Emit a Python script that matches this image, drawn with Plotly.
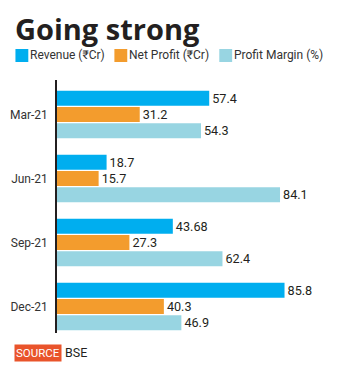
import plotly.graph_objects as go

quarters = ["Mar-21", "Jun-21", "Sep-21", "Dec-21"]
revenue = [57.4, 18.7, 43.68, 85.8]
net_profit = [31.2, 15.7, 27.3, 40.3]
profit_margin = [54.3, 84.1, 62.4, 46.9]
revenue_labels = ["57.4", "18.7", "43.68", "85.8"]
profit_labels = ["31.2", "15.7", "27.3", "40.3"]
margin_labels = ["54.3", "84.1", "62.4", "46.9"]

series_names = ["Revenue (₹Cr)", "Net Profit (₹Cr)", "Profit Margin (%)"]
colors = ["#00AEEF", "#F39C2D", "#98D5E2"]

W, H = 350, 370
L, R, T, B = 54, 10, 80, 37
PW, PH = W - L - R, H - T - B

def px(x):
    return (x - L) / PW

def py(y):
    return (H - B - y) / PH

fig = go.Figure()
for name, vals, labels, col in zip(series_names,
                                   [revenue, net_profit, profit_margin],
                                   [revenue_labels, profit_labels, margin_labels],
                                   colors):
    fig.add_trace(go.Bar(
        y=quarters, x=vals, name=name, orientation="h",
        marker=dict(color=col, line=dict(width=0)),
        text=labels, textposition="outside", cliponaxis=False,
        textfont=dict(family="Roboto", size=16, color="#231F20"),
        showlegend=False,
    ))

fig.update_layout(
    width=W, height=H,
    margin=dict(l=L, r=R, t=T, b=B),
    paper_bgcolor="white", plot_bgcolor="white",
    barmode="group", bargap=0.234, bargroupgap=0.08,
    xaxis=dict(range=[0, PW / 2.68], visible=False, fixedrange=True),
    yaxis=dict(
        categoryorder="array", categoryarray=quarters,
        range=[3.414, -0.539],
        showline=True, linecolor="#231F20", linewidth=1.6,
        ticks="", showgrid=False, zeroline=False,
        tickfont=dict(family="Roboto", size=12, color="#333333"),
        ticklabelstandoff=5,
    ),
    font=dict(family="Roboto"),
)

annotations = [
    dict(text="<b>Going strong</b>", x=px(10), y=py(28), xref="paper", yref="paper",
         xanchor="left", yanchor="middle", showarrow=False,
         font=dict(family="Open Sans", size=29, color="#231F20")),
]
shapes = []
legend_sq_x = [12, 112, 218]
legend_tx_x = [27, 127, 233]
for name, col, sx, tx in zip(series_names, colors, legend_sq_x, legend_tx_x):
    shapes.append(dict(type="rect", xref="paper", yref="paper",
                       x0=px(sx), x1=px(sx + 13), y0=py(62), y1=py(49),
                       fillcolor=col, line=dict(width=0)))
    annotations.append(dict(text=name, x=px(tx - 2), y=py(55.5), xref="paper", yref="paper",
                            xanchor="left", yanchor="middle", showarrow=False,
                            font=dict(family="Roboto", size=12, color="#333333")))

annotations.append(dict(text="SOURCE", x=px(11), y=py(352.5), xref="paper", yref="paper",
                        xanchor="left", yanchor="middle", showarrow=False,
                        bgcolor="#E9542B", borderpad=1,
                        font=dict(family="Roboto", size=11.5, color="white")))
annotations.append(dict(text="BSE", x=px(60), y=py(352.5), xref="paper", yref="paper",
                        xanchor="left", yanchor="middle", showarrow=False,
                        font=dict(family="Roboto", size=12.5, color="#231F20")))

fig.update_layout(annotations=annotations, shapes=shapes)
fig.write_html("out.html")
